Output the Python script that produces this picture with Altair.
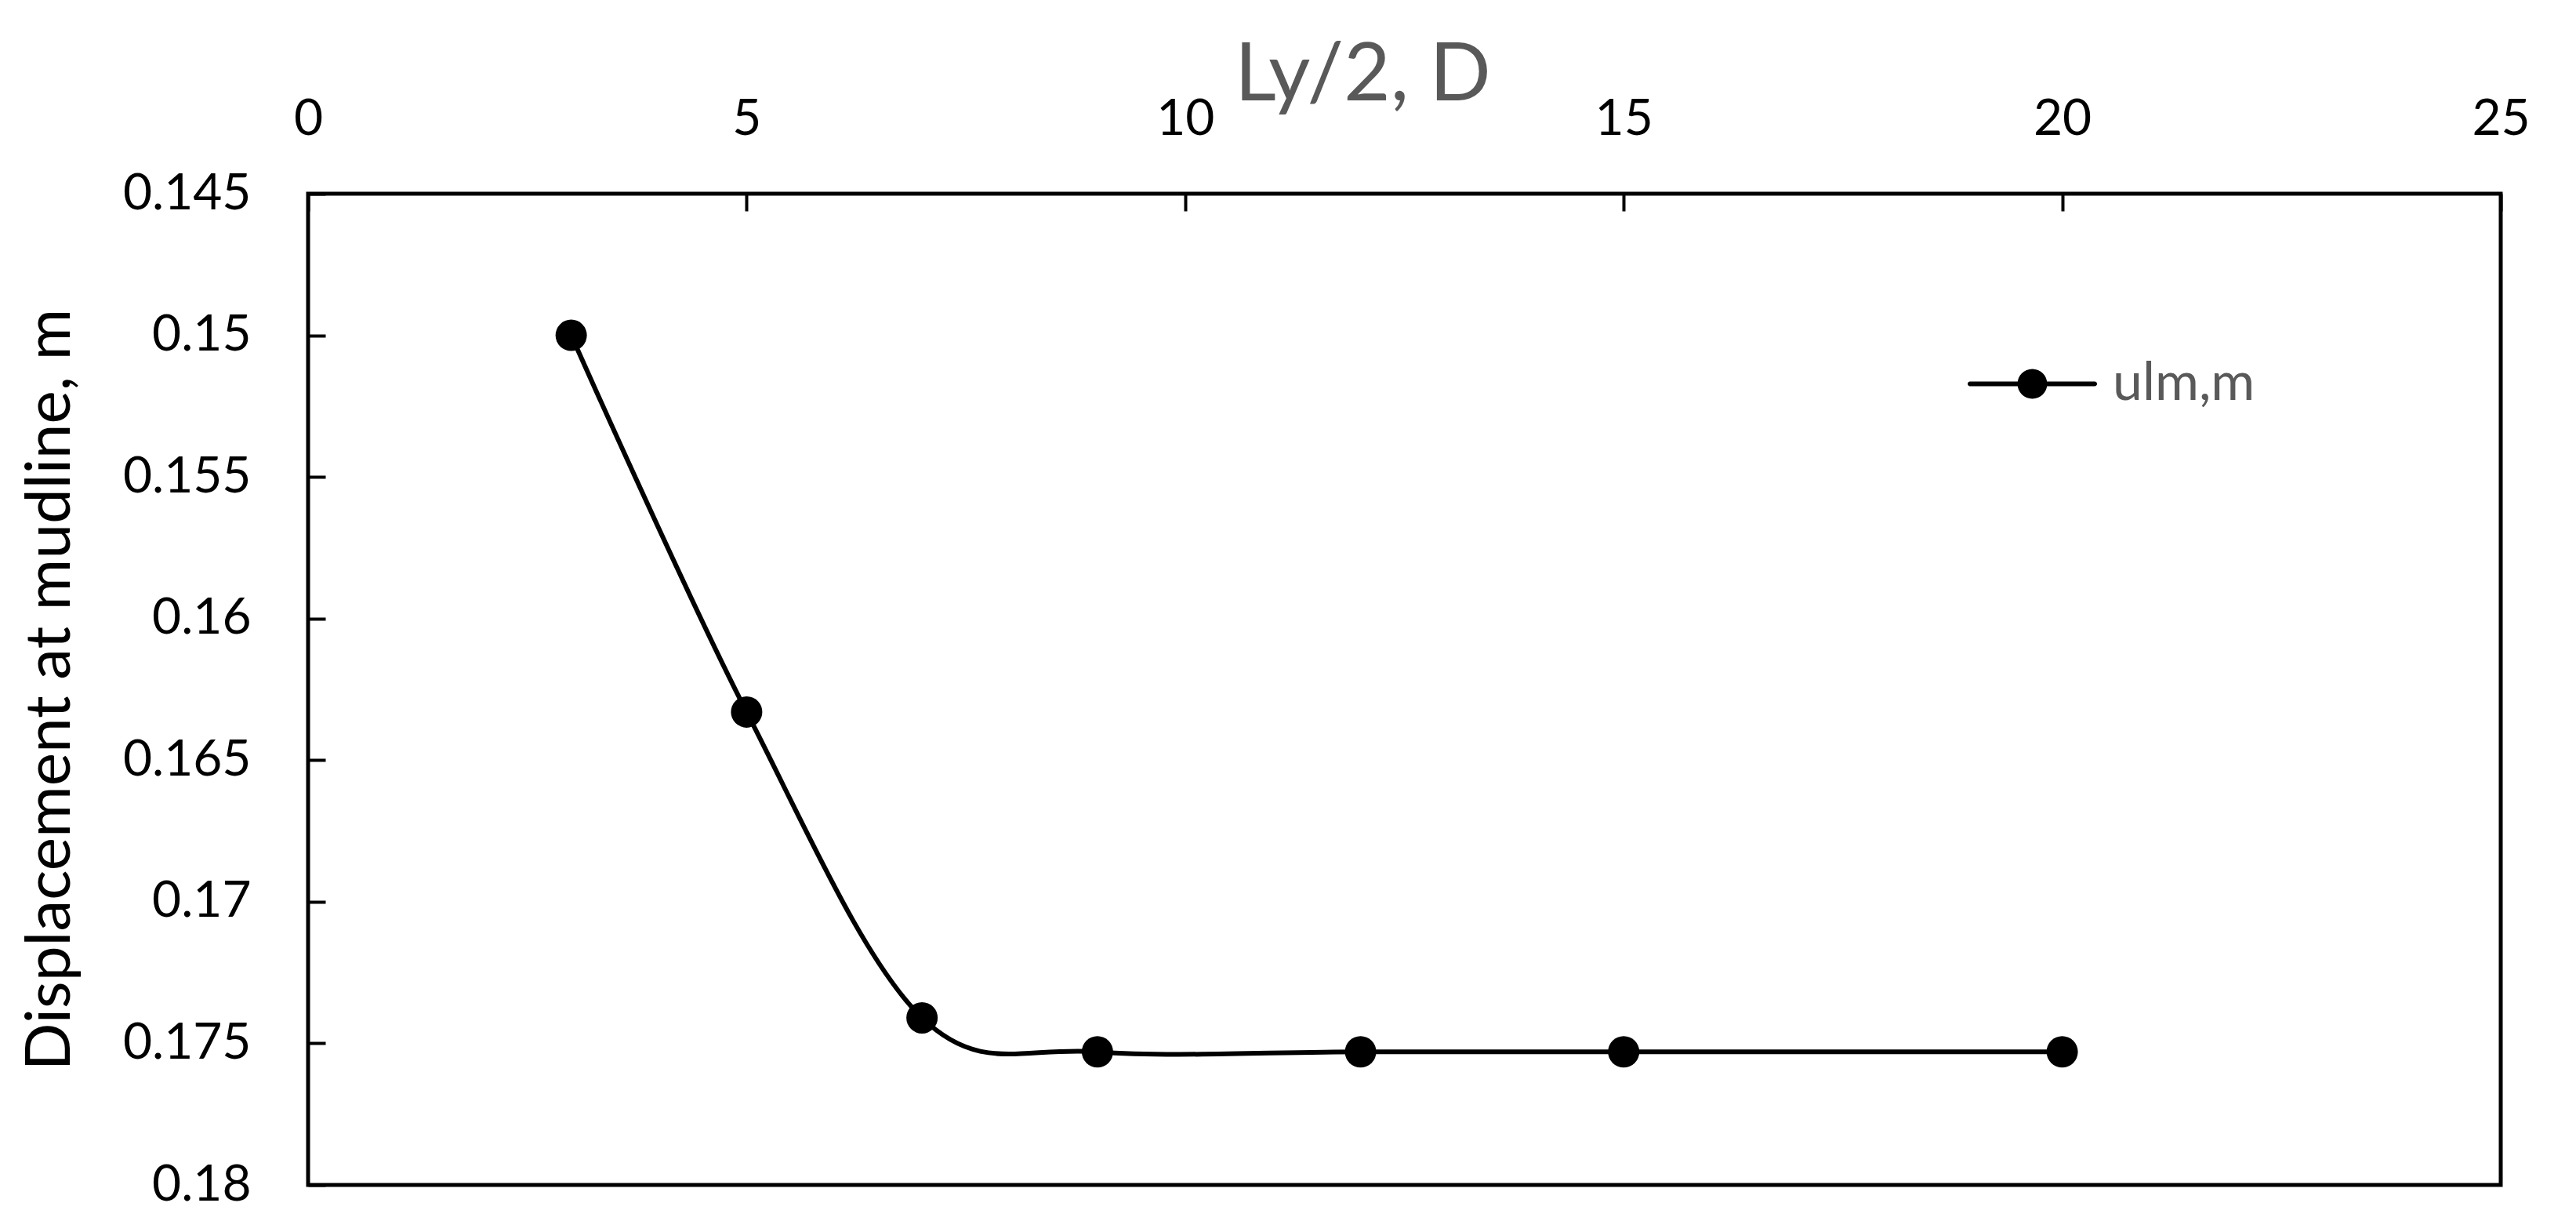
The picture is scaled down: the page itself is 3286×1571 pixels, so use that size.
import altair as alt
import pandas as pd

# Data
ly_half = [3, 5, 7, 9, 12, 15, 20]
ulm = [0.1500, 0.1633, 0.1741, 0.1753, 0.1753, 0.1753, 0.1753]
series_name = "ulm,m"
x_ticks = [0, 5, 10, 15, 20, 25]
y_ticks = [0.145, 0.15, 0.155, 0.16, 0.165, 0.17, 0.175, 0.18]

df = pd.DataFrame({"x": ly_half, "y": ulm, "series": [series_name] * len(ly_half)})

FONT = "Lato"
GRAY = "#595959"

x_enc = alt.X(
    "x:Q",
    scale=alt.Scale(domain=[0, 25], nice=False),
    axis=alt.Axis(
        orient="top",
        values=x_ticks,
        format="d",
        title="Ly/2, D",
        titleFont=FONT,
        titleFontSize=103,
        titleFontWeight="normal",
        titleColor=GRAY,
        titleAlign="center",
        titleBaseline="alphabetic",
        titleX=1345,
        titleY=-120,
        labelFont=FONT,
        labelFontSize=64,
        labelColor="black",
        labelBaseline="alphabetic",
        labelPadding=98,
        labelFlush=False,
        labelOverlap=False,
        tickSize=alt.ExprRef("-22"),
        tickWidth=4,
        tickColor="black",
        domain=False,
        grid=False,
    ),
)

y_enc = alt.Y(
    "y:Q",
    scale=alt.Scale(domain=[0.145, 0.18], nice=False, zero=False, reverse=True),
    axis=alt.Axis(
        values=y_ticks,
        format=".3~f",
        title="Displacement at mudline, m",
        titleFont=FONT,
        titleFontSize=80,
        titleFontWeight="normal",
        titleColor="black",
        titleAngle=270,
        titleAlign="center",
        titleBaseline="alphabetic",
        titleX=-305,
        titleY=632,
        labelFont=FONT,
        labelFontSize=64,
        labelColor="black",
        labelPadding=95,
        labelFlush=False,
        labelOverlap=False,
        tickSize=alt.ExprRef("-22"),
        tickWidth=4,
        tickColor="black",
        domain=False,
        grid=False,
    ),
)

line = alt.Chart(df).mark_line(
    interpolate="cardinal", color="black", strokeWidth=6
).encode(x=x_enc, y=y_enc)

legend_symbol = (
    "M-0.964,-0.036 L0.964,-0.036 A0.036,0.036 0 0,1 0.964,0.036 "
    "L-0.964,0.036 A0.036,0.036 0 0,1 -0.964,-0.036 Z "
    "M-0.23,0 A0.23,0.23 0 1,1 0.23,0 A0.23,0.23 0 1,1 -0.23,0 Z"
)

points = alt.Chart(df).mark_point(filled=True, size=1600, opacity=1).encode(
    x=x_enc,
    y=y_enc,
    color=alt.Color(
        "series:N",
        scale=alt.Scale(range=["black"]),
        legend=alt.Legend(
            title=None,
            orient="none",
            legendX=2117,
            legendY=160,
            padding=0,
            symbolType=legend_symbol,
            symbolSize=27225,
            symbolStrokeWidth=0,
            symbolFillColor="black",
            symbolOpacity=1,
            labelFont=FONT,
            labelFontSize=68,
            labelColor=GRAY,
            labelOffset=20,
            labelLimit=0,
        ),
    ),
)

chart = (
    alt.layer(line, points)
    .properties(
        width=2797,
        height=1264,
        autosize=alt.AutoSizeParams(type="none"),
        padding={"left": 385, "top": 239, "right": 80, "bottom": 45},
        background="white",
    )
    .configure_view(stroke="black", strokeWidth=5)
)

chart.save("out.html", embed_options={"renderer": "svg", "actions": False})
